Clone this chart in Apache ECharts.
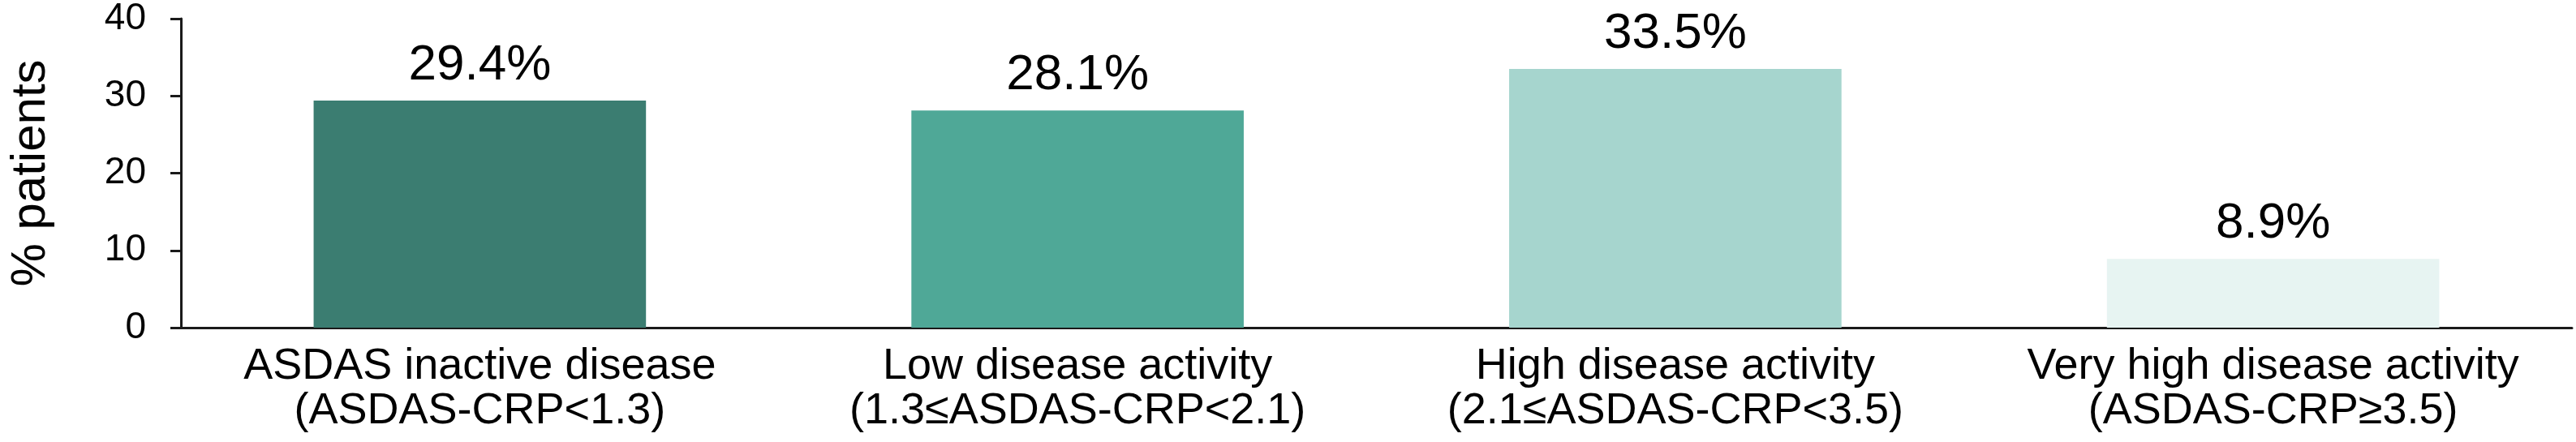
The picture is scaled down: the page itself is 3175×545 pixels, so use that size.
<!DOCTYPE html>
<html>
<head>
<meta charset="utf-8">
<script src="https://cdn.jsdelivr.net/npm/echarts@6/dist/echarts.min.js"></script>
<style>html,body{margin:0;padding:0;background:#fff}#c{width:3175px;height:545px}</style>
</head>
<body>
<div id="c"></div>
<script>
const categories = [
  "ASDAS inactive disease\n(ASDAS-CRP<1.3)",
  "Low disease activity\n(1.3≤ASDAS-CRP<2.1)",
  "High disease activity\n(2.1≤ASDAS-CRP<3.5)",
  "Very high disease activity\n(ASDAS-CRP≥3.5)"
];
const values = [29.4, 28.1, 33.5, 8.9];
const barColors = ["#3b7d71", "#4fa897", "#a6d5ce", "#e7f4f2"];
const yTicks = [0, 10, 20, 30, 40];
const yName = "% patients";

const FF = "'Liberation Sans', Arial, sans-serif";
const chart = echarts.init(document.getElementById('c'), null, {renderer: 'canvas'});
chart.setOption({
  animation: false,
  backgroundColor: '#ffffff',
  grid: {left: 205, right: 5, top: 22.6, bottom: 141, containLabel: false},
  xAxis: {
    type: 'category',
    data: categories,
    axisLine: {show: true, lineStyle: {color: '#1a1a1a', width: 3}},
    axisTick: {show: false},
    axisLabel: {
      interval: 0, margin: 21, color: '#000', fontFamily: FF, fontSize: 54, lineHeight: 55
    }
  },
  yAxis: {
    type: 'value',
    min: yTicks[0], max: yTicks[yTicks.length - 1], interval: 10,
    name: yName,
    nameLocation: 'middle',
    nameGap: 155,
    nameTextStyle: {color: '#000', fontFamily: FF, fontSize: 60},
    splitLine: {show: false},
    axisLine: {show: true, lineStyle: {color: '#1a1a1a', width: 3}},
    axisTick: {show: true, length: 13, lineStyle: {color: '#1a1a1a', width: 3}},
    axisLabel: {margin: 43, color: '#000', fontFamily: FF, fontSize: 46}
  },
  series: [{
    type: 'bar',
    data: values.map((v, i) => ({value: v, itemStyle: {color: barColors[i]}})),
    barCategoryGap: '44.4%',
    label: {
      show: true, position: 'top', distance: 12,
      formatter: p => p.value.toFixed(1) + '%',
      color: '#000', fontFamily: FF, fontSize: 62, lineHeight: 62
    }
  }]
});
</script>
</body>
</html>
